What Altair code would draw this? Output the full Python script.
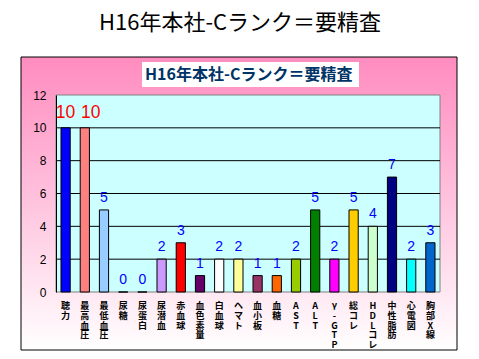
import altair as alt
import pandas as pd

main_title = "H16年本社-Cランク＝要精査"
inner_title = "H16年本社-Cランク＝要精査"
categories = ["聴力", "最高血圧", "最低血圧", "尿糖", "尿蛋白", "尿潜血", "赤血球", "血色素量",
              "白血球", "ヘマト", "血小板", "血糖", "AST", "ALT", "γ-GTP", "総コレ",
              "HDLコレ", "中性脂肪", "心電図", "胸部X線"]
counts = [10, 10, 5, 0, 0, 2, 3, 1, 2, 2, 1, 1, 2, 5, 2, 5, 4, 7, 2, 3]
bar_colors = ["#0000FF", "#FF8080", "#99CCFF", "#FFFFFF", "#FFFFFF", "#CC99FF", "#FF0000", "#660066",
              "#FFFFFF", "#FFFF99", "#993366", "#FF6600", "#99CC00", "#008000", "#FF00FF", "#FFCC00",
              "#CCFFCC", "#000080", "#00FFFF", "#0066CC"]
y_ticks = [0, 2, 4, 6, 8, 10, 12]
grid_values = [2, 4, 6, 8, 10]

W, H = 384, 197

df = pd.DataFrame({
    "category": categories,
    "count": counts,
    "vlabel": ["\n".join(list(c)) for c in categories],
})
grid_df = pd.DataFrame({"count": grid_values})
one = pd.DataFrame({"a": [0]})

xscale = alt.Scale(domain=categories, paddingInner=0.52, paddingOuter=0.26)
yscale = alt.Scale(domain=[0, 12], nice=False, zero=True)
yaxis = alt.Axis(values=y_ticks, grid=False, ticks=False, domainColor="#000000",
                 labelPadding=10, labelFontSize=12, labelFont="Liberation Sans",
                 labelColor="#000000", title=None, zindex=1)

gradient = alt.LinearGradient(
    gradient="linear",
    stops=[alt.GradientStop(color="#FF8CBF", offset=0),
           alt.GradientStop(color="#FFB8D8", offset=0.4),
           alt.GradientStop(color="#FFFFFF", offset=1)],
    x1=0, x2=0, y1=0, y2=1,
)

frame = alt.Chart(one).mark_rect(color=gradient, stroke="#000000", strokeWidth=1).encode(
    x=alt.value(-35), x2=alt.value(401), y=alt.value(-38), y2=alt.value(255)
)
title_box = alt.Chart(one).mark_rect(color="#FFFFFF").encode(
    x=alt.value(86), x2=alt.value(303), y=alt.value(-33), y2=alt.value(-8)
)
title_text = alt.Chart(one).mark_text(
    text=inner_title, font="Noto Sans CJK JP", fontSize=16, fontWeight="bold",
    color="#003366", align="left", baseline="middle"
).encode(x=alt.value(89), y=alt.value(-20))
big_title = alt.Chart(one).mark_text(
    text=main_title, font="Noto Sans CJK JP", fontSize=22, fontWeight="normal",
    color="#000000", align="center", baseline="middle"
).encode(x=alt.value(184), y=alt.value(-72))

plot_bg = alt.Chart(one).mark_rect(color="#CCFFFF", stroke="#808080", strokeWidth=1).encode(
    x=alt.value(0), x2=alt.value(W), y=alt.value(0), y2=alt.value(H)
)
grid = alt.Chart(grid_df).mark_rule(color="#000000", strokeWidth=1).encode(
    y=alt.Y("count:Q", scale=yscale, axis=yaxis),
    x=alt.value(0), x2=alt.value(W)
)
bars = alt.Chart(df).mark_bar(stroke="#000000", strokeWidth=1).encode(
    x=alt.X("category:N", scale=xscale, axis=None, sort=categories),
    y=alt.Y("count:Q", scale=yscale, axis=yaxis),
    color=alt.Color("category:N", scale=alt.Scale(domain=categories, range=bar_colors), legend=None),
)
label_enc = dict(
    x=alt.X("category:N", scale=xscale, axis=None, sort=categories),
    y=alt.Y("count:Q", scale=yscale, axis=yaxis),
    text=alt.Text("count:Q"),
)
values_blue = alt.Chart(df).transform_filter("datum.count < 10").mark_text(
    font="Liberation Sans", baseline="bottom", dy=-5, fontSize=14, color="#0000FF"
).encode(**label_enc)
values_red1 = alt.Chart(df).transform_filter(
    "datum.count >= 10 && datum.category != '最高血圧'").mark_text(
    font="Liberation Sans", baseline="bottom", dy=-6, fontSize=17.5, color="#FF0000"
).encode(**label_enc)
values_red2 = alt.Chart(df).transform_filter(
    "datum.count >= 10 && datum.category == '最高血圧'").mark_text(
    font="Liberation Sans", baseline="bottom", dy=-6, dx=6, fontSize=17.5, color="#FF0000"
).encode(**label_enc)
xlabels = alt.Chart(df).mark_text(
    font="Noto Sans CJK JP", fontSize=9, fontWeight="bold", color="#000000",
    baseline="top", align="center", lineBreak="\n", lineHeight=9.8
).encode(
    x=alt.X("category:N", scale=xscale, axis=None, sort=categories),
    y=alt.value(H + 10),
    text="vlabel:N",
)

chart = alt.layer(frame, title_box, title_text, big_title, plot_bg, grid, bars,
                  values_blue, values_red1, values_red2, xlabels).properties(
    width=W, height=H,
    autosize=alt.AutoSizeParams(type="none"),
    padding={"left": 48, "top": 87, "right": 31, "bottom": 59},
    background="#FFFFFF",
).configure_view(stroke=None)

chart.save("out.html", embed_options={"renderer": "svg", "actions": False})
